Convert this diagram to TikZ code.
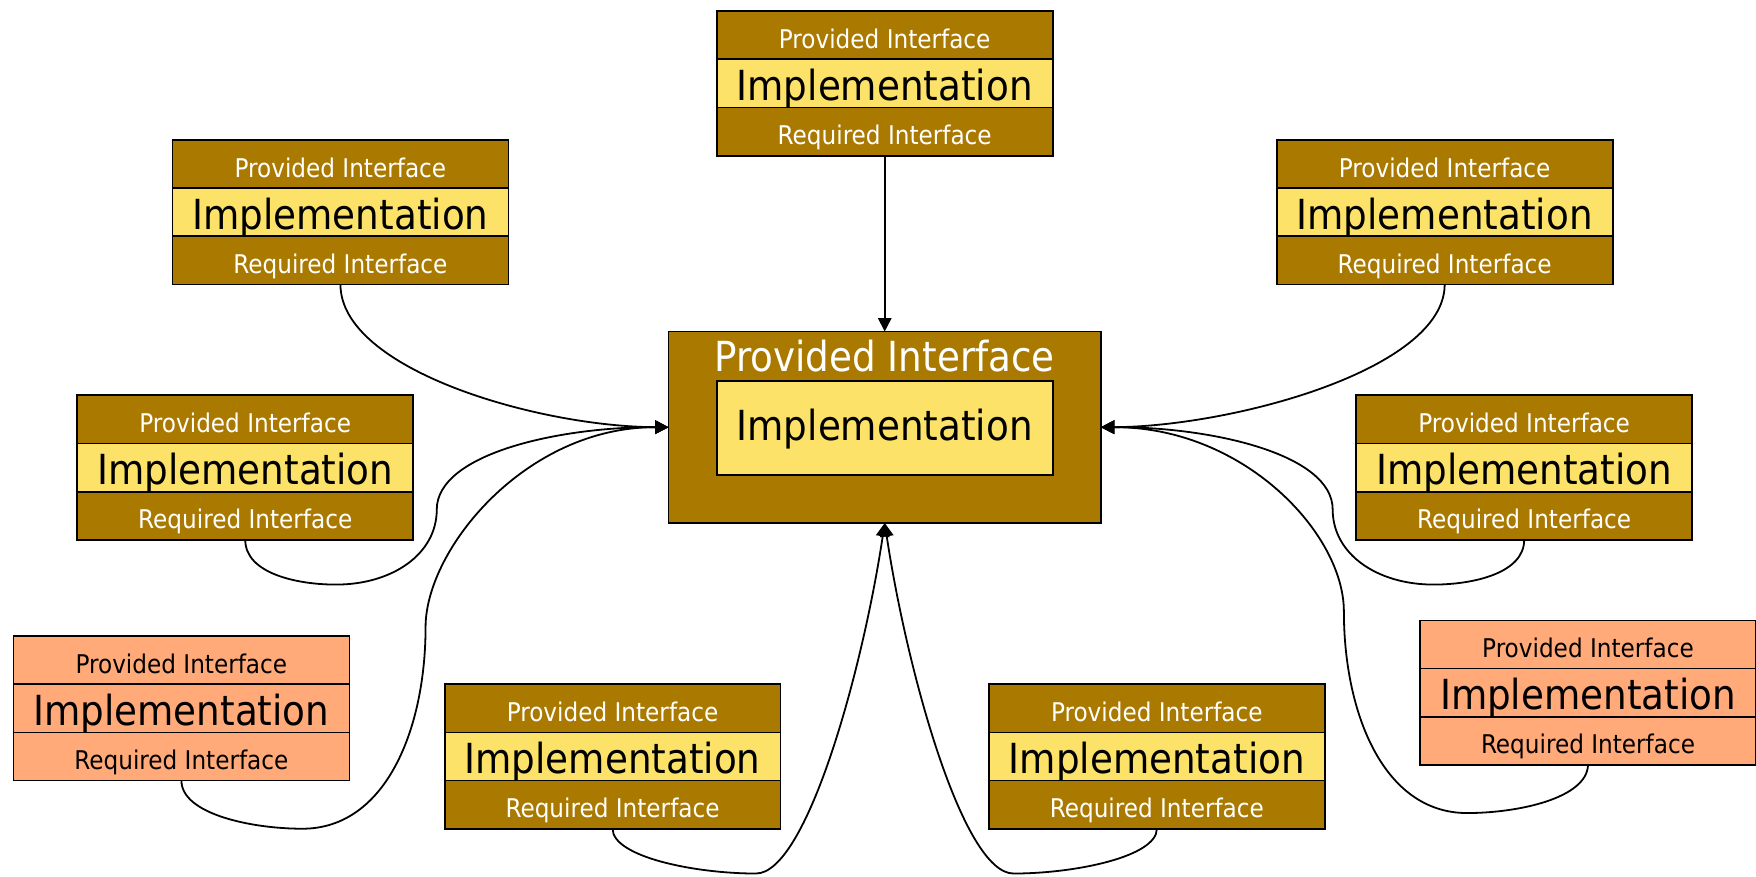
\documentclass[tikz,border=0pt]{standalone}
\usepackage{fontspec}
\setmainfont{DejaVu Sans Condensed}
\usetikzlibrary{positioning,arrows.meta}

\definecolor{gold}{RGB}{170,121,0}
\definecolor{butter}{RGB}{252,226,104}
\definecolor{salmon}{RGB}{255,170,120}

\tikzset{
  slab/.style={draw=black, line width=1.6pt, minimum width=300pt, minimum height=43pt, inner sep=0pt, outer sep=0pt, text depth=0pt},
  iface/.style={slab, font=\fontsize{23}{23}\selectfont, text height=23.4pt},
  impl/.style={slab, font=\fontsize{37}{37}\selectfont, text=black, text height=30.4pt},
  wire/.style={line width=1.6pt, -{Triangle[length=12pt,width=12pt]}},
}

% name, x, y, interface fill, interface text, implementation fill
\newcommand{\buildcomp}[6]{
  \node[iface, fill=#4, text=#5, anchor=north west] (#1-p) at (#2,#3) {Provided Interface};
  \node[impl, fill=#6, below=0pt of #1-p] (#1-i) {Implementation};
  \node[iface, fill=#4, text=#5, below=0pt of #1-i] (#1-r) {Required Interface};
}

\begin{document}
\begin{tikzpicture}[x=1pt,y=-1pt]
\useasboundingbox (0,0) rectangle (1568,783);

% the component in the middle
\node[draw=black, line width=1.6pt, fill=gold, minimum width=386pt, minimum height=171pt, inner sep=0pt, outer sep=0pt, anchor=north west] (centre) at (597,296) {};
\node[text=white, font=\fontsize{37}{37}\selectfont] (centre-title) at (790,318) {Provided Interface};
\node[impl, fill=butter, minimum height=84pt, text height=23.4pt] (core) at (790,382) {Implementation};

% the components round it
\buildcomp{top}{640}{10}{gold}{white}{butter}
\buildcomp{ul}{154}{125}{gold}{white}{butter}
\buildcomp{ur}{1140}{125}{gold}{white}{butter}
\buildcomp{ml}{69}{353}{gold}{white}{butter}
\buildcomp{mr}{1211}{353}{gold}{white}{butter}
\buildcomp{ll}{12}{568}{salmon}{black}{salmon}
\buildcomp{lr}{1268}{554}{salmon}{black}{salmon}
\buildcomp{bl}{397}{611}{gold}{white}{butter}
\buildcomp{br}{883}{611}{gold}{white}{butter}

% connectors
\draw[wire] (top-r.south) -- (centre.north);
\draw[wire] (ul-r.south) .. controls (304,330) and (480,381) .. (centre.west);
\draw[wire] (ur-r.south) .. controls (1290,330) and (1100,381) .. (centre.east);
\draw[wire] (ml-r.south) .. controls (219,512) and (265,522) .. (300,522)
  .. controls (350,522) and (390,495) .. (390,455)
  .. controls (390,405) and (500,381) .. (centre.west);
\draw[wire] (mr-r.south) .. controls (1361,512) and (1315,522) .. (1280,522)
  .. controls (1230,522) and (1190,495) .. (1190,455)
  .. controls (1190,405) and (1080,381) .. (centre.east);
\draw[wire] (ll-r.south) .. controls (162,727) and (225,740) .. (270,740)
  .. controls (345,740) and (380,650) .. (380,560)
  .. controls (380,490) and (470,381) .. (centre.west);
\draw[wire] (lr-r.south) .. controls (1417,713) and (1355,726) .. (1310,726)
  .. controls (1235,726) and (1200,636) .. (1200,546)
  .. controls (1200,476) and (1110,381) .. (centre.east);
\draw[wire] (bl-r.south) .. controls (547,765) and (620,780) .. (675,780)
  .. controls (720,780) and (770,600) .. (centre.south);
\draw[wire] (br-r.south) .. controls (1033,765) and (960,780) .. (905,780)
  .. controls (860,780) and (810,600) .. (centre.south);
\end{tikzpicture}
\end{document}
